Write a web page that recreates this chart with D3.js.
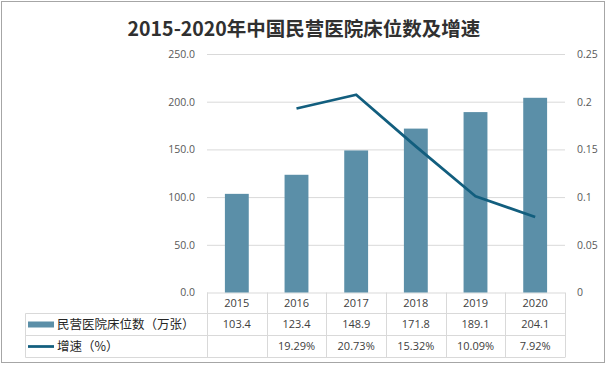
<!DOCTYPE html>
<html><head><meta charset="utf-8">
<script src="https://cdn.jsdelivr.net/npm/d3@7"></script>
<style>body{margin:0;background:#fff}svg{display:block}</style>
</head><body><svg id="c" width="608" height="366"></svg>
<script>
const years = ["2015","2016","2017","2018","2019","2020"];
const beds = [103.4,123.4,148.9,171.8,189.1,204.1];
const growth = [null,19.29,20.73,15.32,10.09,7.92];
const leftTicks = [0,50,100,150,200,250];
const rightTicks = [0,0.05,0.1,0.15,0.2,0.25];
const seriesNames = ["民营医院床位数（万张）","增速（%）"];
const title = "2015-2020年中国民营医院床位数及增速";

const svg = d3.select("#c");
const L=207, R=565, T=54, B=292.5;
const numFont = "'Open Sans', 'Noto Sans', sans-serif";
const cjkFont = "'Noto Sans CJK SC', sans-serif";

svg.append("rect").attr("x",1.5).attr("y",1.5).attr("width",603).attr("height",361)
  .attr("fill","#fff").attr("stroke","#A6A6A6").attr("stroke-width",1);

svg.append("text").attr("x",304).attr("y",36).attr("text-anchor","middle")
  .attr("font-family",cjkFont).attr("font-weight","bold").attr("font-size",19.5)
  .attr("fill","#303030").text(title);

const x = d3.scaleBand().domain(years).range([L,R]).padding(0);
const y = d3.scaleLinear().domain([0,250]).range([B,T]);
const y2 = d3.scaleLinear().domain([0,0.25]).range([B,T]);

const gl = svg.append("g").attr("transform",`translate(${L},0)`)
  .call(d3.axisLeft(y).tickValues(leftTicks).tickFormat(d3.format(".1f")).tickSizeInner(-(R-L)).tickSizeOuter(0).tickPadding(12));
gl.select(".domain").remove();
gl.selectAll(".tick line").attr("stroke","#D9D9D9");
gl.selectAll(".tick text").attr("fill","#595959").attr("font-family",numFont).attr("font-size",10.5);

const gr = svg.append("g").attr("transform",`translate(${R},0)`)
  .call(d3.axisRight(y2).tickValues(rightTicks).tickFormat(d=>String(+d.toFixed(2))).tickSize(0).tickPadding(12));
gr.select(".domain").remove();
gr.selectAll(".tick text").attr("fill","#595959").attr("font-family",numFont).attr("font-size",10.5);

const bw = x.bandwidth()*0.4;
svg.append("g").selectAll("rect").data(years).join("rect")
  .attr("x",(d)=>x(d)+x.bandwidth()/2-bw/2)
  .attr("y",(d,i)=>y(beds[i]))
  .attr("width",bw)
  .attr("height",(d,i)=>y(0)-y(beds[i]))
  .attr("fill","#5B8FA8");

const pts = years.map((d,i)=>({d, v: growth[i]})).filter(p=>p.v!=null);
svg.append("path").datum(pts)
  .attr("d", d3.line().x(p=>x(p.d)+x.bandwidth()/2).y(p=>y2(p.v/100)))
  .attr("fill","none").attr("stroke","#125E7E").attr("stroke-width",2.75).attr("stroke-linejoin","round");

const rowH = [B, 313.5, 335.5, 357.5];
const TL = 25.5;
const tg = svg.append("g").attr("stroke","#D9D9D9").attr("stroke-width",1).attr("fill","none");
tg.append("line").attr("x1",TL).attr("x2",R).attr("y1",rowH[1]).attr("y2",rowH[1]);
tg.append("line").attr("x1",TL).attr("x2",R).attr("y1",rowH[2]).attr("y2",rowH[2]);
tg.append("line").attr("x1",TL).attr("x2",R).attr("y1",rowH[3]).attr("y2",rowH[3]);
tg.append("line").attr("x1",TL).attr("x2",TL).attr("y1",rowH[1]).attr("y2",rowH[3]);
const vx = years.map(d=>x(d)).concat([R]);
tg.selectAll("line.v").data(vx).join("line").attr("class","v")
  .attr("x1",d=>Math.round(d)+0.5).attr("x2",d=>Math.round(d)+0.5).attr("y1",B).attr("y2",rowH[3]);

const txt = svg.append("g").attr("font-family",numFont).attr("font-size",11).attr("fill","#404040").attr("text-anchor","middle");
years.forEach((d,i)=>{
  const cx = x(d)+x.bandwidth()/2;
  txt.append("text").attr("x",cx).attr("y",(rowH[0]+rowH[1])/2).attr("dy","0.35em").text(d);
  txt.append("text").attr("x",cx).attr("y",(rowH[1]+rowH[2])/2).attr("dy","0.35em").text(beds[i].toFixed(1));
  if (growth[i]!=null)
    txt.append("text").attr("x",cx).attr("y",(rowH[2]+rowH[3])/2).attr("dy","0.35em").text(growth[i].toFixed(2)+"%");
});

svg.append("rect").attr("x",28).attr("y",(rowH[1]+rowH[2])/2-3).attr("width",26).attr("height",6).attr("fill","#5B8FA8");
svg.append("line").attr("x1",28).attr("x2",54).attr("y1",(rowH[2]+rowH[3])/2).attr("y2",(rowH[2]+rowH[3])/2)
  .attr("stroke","#125E7E").attr("stroke-width",2.75);
svg.append("text").attr("x",57).attr("y",(rowH[1]+rowH[2])/2).attr("dy","0.36em")
  .attr("font-family",cjkFont).attr("font-size",12.5).attr("fill","#262626").text(seriesNames[0]);
svg.append("text").attr("x",57).attr("y",(rowH[2]+rowH[3])/2).attr("dy","0.36em")
  .attr("font-family",cjkFont).attr("font-size",12.5).attr("fill","#262626").text(seriesNames[1]);
</script></body></html>
